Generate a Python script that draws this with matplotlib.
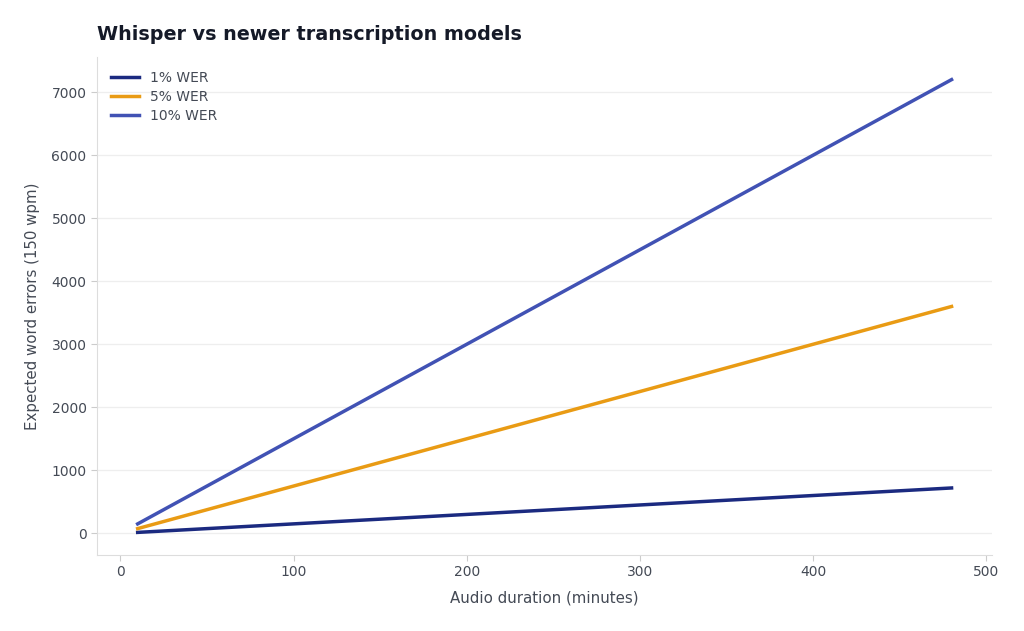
import matplotlib
matplotlib.use("Agg")
import matplotlib.pyplot as plt

# durations in minutes, expected errors at 150 words per minute
minutes = [10, 480]
errors_1pct = [15, 720]
errors_5pct = [75, 3600]
errors_10pct = [150, 7200]

labels = ["1% WER", "5% WER", "10% WER"]
colors = ["#1b2a80", "#e99b14", "#4152b4"]

fig = plt.figure(figsize=(10.24, 6.31), dpi=100)
ax = fig.add_axes([0.0947, 0.1204, 0.8743, 0.7893])

for ys, lab, c in zip([errors_1pct, errors_5pct, errors_10pct], labels, colors):
    ax.plot(minutes, ys, color=c, lw=2.5, label=lab)

text_col = "#444a55"
ax.set_xlabel("Audio duration (minutes)", fontsize=10.8, color=text_col, labelpad=8)
ax.set_ylabel("Expected word errors (150 wpm)", fontsize=10.8, color=text_col, labelpad=8)
fig.text(0.0947, 0.93, "Whisper vs newer transcription models", fontsize=13.8,
         fontweight="bold", color="#151a28", ha="left", va="bottom")

ax.set_xticks([0, 100, 200, 300, 400, 500])
ax.set_yticks(range(0, 7001, 1000))
ax.tick_params(colors="#cccccc", labelcolor=text_col, labelsize=10, length=4)
ax.grid(axis="y", color="#eeeeee", lw=0.9)
ax.set_axisbelow(True)
for s in ["top", "right"]:
    ax.spines[s].set_visible(False)
for s in ["left", "bottom"]:
    ax.spines[s].set_color("#dddddd")

leg = ax.legend(loc="upper left", frameon=False, fontsize=10, handlelength=2,
                labelspacing=0.35, borderaxespad=0.6)
for t in leg.get_texts():
    t.set_color(text_col)

fig.savefig("out.png", dpi=100)
